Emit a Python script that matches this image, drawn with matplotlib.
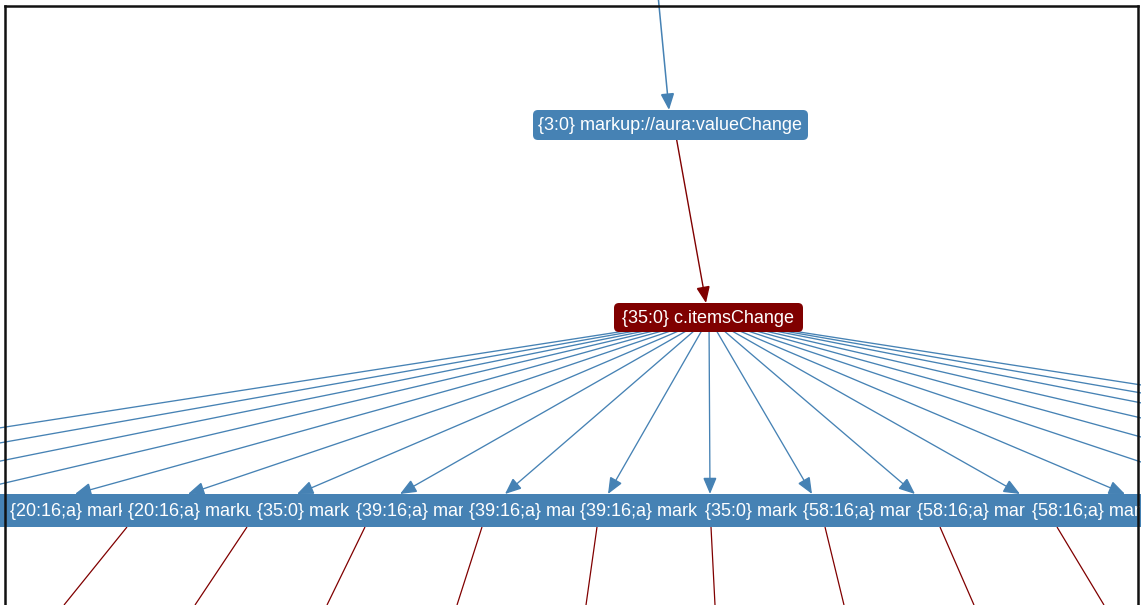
import matplotlib
matplotlib.use("Agg")
import matplotlib.pyplot as plt
from matplotlib.patches import FancyBboxPatch, FancyArrowPatch, ArrowStyle, Rectangle
from matplotlib.transforms import Bbox

plt.rcParams['font.family'] = ['Liberation Sans', 'DejaVu Sans']

W, H = 1141, 605

# ---- data (pixel-space layout of the graph) ----
top_node_label = "{3:0} markup://aura:valueChange"
top_node_box = (533, 110, 808, 140)       # x0, y0, x1, y1
mid_node_label = "{35:0} c.itemsChange"
mid_node_box = (614, 303, 803, 332)
fan_source = (709, 318)

# tips of the fan arrows on the top edge of the bottom band (x at y = band top)
fan_tip_x = [-427, -290, -163, -42, 75, 188, 297, 400, 505, 608, 710,
             812, 915, 1020, 1125, 1237, 1348, 1470, 1605, 1724, 1845]

band_y = (494, 527)
bottom_labels = ["{20:16;a} mark",
                 "{20:16;a} marku",
                 "{35:0} mark",
                 "{39:16;a} mar",
                 "{39:16;a} mar",
                 "{39:16;a} mark",
                 "{35:0} mark",
                 "{58:16;a} mar",
                 "{58:16;a} mar",
                 "{58:16;a} mar"]
bottom_label_x = [10, 128, 257, 356, 469, 580, 705, 803, 917, 1032]

# red edges leaving the bottom band (x at band bottom, x at image bottom)
red_top_x = [127, 247, 365, 482, 597, 711, 825, 940, 1057]
red_bottom_x = [64, 195, 327, 457, 586, 715, 844, 974, 1104]

# incoming edge from above and edge between the two nodes
in_edge = ((658, -5), (669, 110))
mid_edge = ((674, 125), (706, 303))

BLUE = "#4682B4"
RED = "#800000"

fig = plt.figure(figsize=(W / 100, H / 100), dpi=100)
ax = fig.add_axes([0, 0, 1, 1])
ax.set_xlim(0, W)
ax.set_ylim(H, 0)
ax.axis("off")

head = ArrowStyle("-|>", head_length=1.0, head_width=0.42)


def arrow(p0, p1, color, lw):
    a = FancyArrowPatch(p0, p1, arrowstyle=head, mutation_scale=10,
                        color=color, lw=lw, shrinkA=0, shrinkB=0, zorder=1,
                        joinstyle="miter")
    ax.add_patch(a)


def box(x0, y0, x1, y1, color, z=2):
    p = FancyBboxPatch((x0, y0), x1 - x0, y1 - y0,
                       boxstyle="round,pad=0,rounding_size=5",
                       fc=color, ec="none", zorder=z)
    ax.add_patch(p)


# edges
arrow(in_edge[0], in_edge[1], BLUE, 1.1)
arrow(mid_edge[0], mid_edge[1], RED, 1.0)
for tx in fan_tip_x:
    arrow(fan_source, (tx, band_y[0]), BLUE, 0.95)
for xt, xb in zip(red_top_x, red_bottom_x):
    ax.plot([xt, xb], [band_y[1], H], color=RED, lw=0.9, zorder=1,
            solid_capstyle="butt")

# nodes
box(*top_node_box, BLUE)
ax.text((top_node_box[0] + top_node_box[2]) / 2, (top_node_box[1] + top_node_box[3]) / 2 + 1,
        top_node_label, color="white", fontsize=13, ha="center", va="center", zorder=3)
box(*mid_node_box, RED)
ax.text((mid_node_box[0] + mid_node_box[2]) / 2, (mid_node_box[1] + mid_node_box[3]) / 2 + 1,
        mid_node_label, color="white", fontsize=13, ha="center", va="center", zorder=3)

# bottom band of overlapping nodes
starts = bottom_label_x
for i, x in enumerate(starts):
    x0 = x - 6 if i > 0 else 0
    x1 = (starts[i + 1] - 2) if i + 1 < len(starts) else W + 10
    ax.add_patch(Rectangle((x0, band_y[0]), x1 - x0, band_y[1] - band_y[0],
                           fc=BLUE, ec="none", zorder=2))
for i, (lab, x) in enumerate(zip(bottom_labels, starts)):
    clip_r = (starts[i + 1] - 6) if i + 1 < len(starts) else W
    t = ax.text(x, (band_y[0] + band_y[1]) / 2 + 1, lab, color="white",
                fontsize=13, ha="left", va="center", zorder=4)
    (dx0, dy0), (dx1, dy1) = ax.transData.transform([(x - 2, band_y[0]), (clip_r, band_y[1])])
    t.set_clip_box(Bbox.from_extents(min(dx0, dx1), min(dy0, dy1), max(dx0, dx1), max(dy0, dy1)))
    t.set_clip_on(True)

# frame (left, top, right)
ax.plot([5, 5], [H + 5, 6], color="#111111", lw=1.8, zorder=10, solid_capstyle="projecting")
ax.plot([5, 1138], [6, 6], color="#111111", lw=1.8, zorder=10, solid_capstyle="projecting")
ax.plot([1138, 1138], [6, H + 5], color="#111111", lw=1.8, zorder=10, solid_capstyle="projecting")

fig.savefig("out.png", dpi=100)
